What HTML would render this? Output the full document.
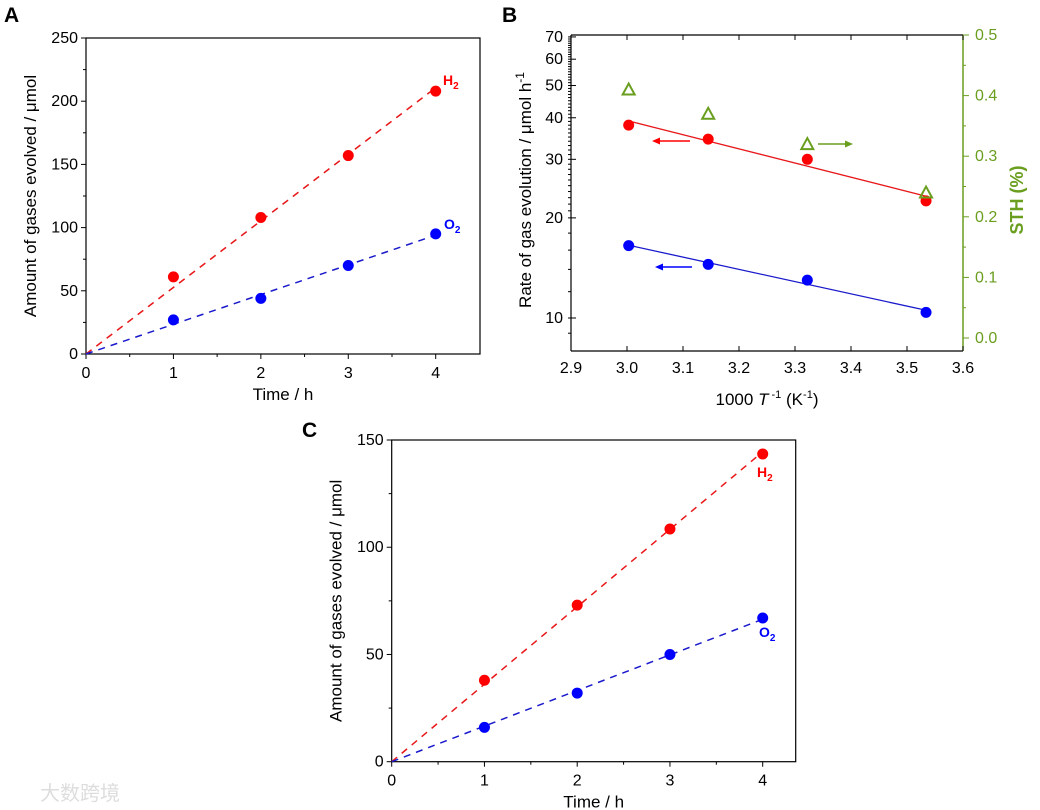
<!DOCTYPE html>
<html><head><meta charset="utf-8"><style>
body{margin:0;background:#fff;}
svg{display:block;font-family:"Liberation Sans",sans-serif;}
</style></head><body>
<svg id="fig" width="1040" height="810"></svg>
<script>
const timeCats=[0,1,2,3,4];
const aH2=[0,61,108,157,208];
const aO2=[0,27,44,70,95];
const cH2=[0,38,73,108.5,143.5];
const cO2=[0,16,32,50,67];
const bX=[3.003,3.145,3.322,3.534];
const bH2=[38,34.5,30,22.5];
const bO2=[16.5,14.5,13,10.4];
const bSTH=[0.41,0.37,0.32,0.24];
const timeTicks=[0,1,2,3,4];
const aYTicks=[0,50,100,150,200,250];
const cYTicks=[0,50,100,150];
const bXTicks=[2.9,3.0,3.1,3.2,3.3,3.4,3.5,3.6];
const bYTicks=[10,20,30,40,50,60,70];
const bY2Ticks=[0.0,0.1,0.2,0.3,0.4,0.5];

const NS="http://www.w3.org/2000/svg";
const svg=document.getElementById('fig');
function mk(tag,attrs,parent,name){const e=document.createElementNS(NS,tag);for(const k in attrs)e.setAttribute(k,attrs[k]);(parent||svg).appendChild(e);


return e;}
function txt(x,y,s,opts,name){const t=mk('text',Object.assign({x:x,y:y,'font-size':16,fill:'#000'},opts||{}),svg,name);t.innerHTML=s;return t;}
function fitOrigin(xs,ys){let a=0,b=0;for(let i=0;i<xs.length;i++){a+=xs[i]*ys[i];b+=xs[i]*xs[i];}return a/b;}

function timePanel(p){
  const sx=v=>p.x0+(v-0)*(p.x4-p.x0)/4, sy=v=>p.y0-v*(p.y0-p.yTop)/p.ymax;
  mk('rect',{x:p.x0,y:p.yTop,width:p.xr-p.x0,height:p.y0-p.yTop,fill:'none',stroke:'#000','stroke-width':1.2},svg,p.id+'-frame');
  timeTicks.forEach((t,i)=>{const X=sx(t);mk('line',{x1:X,y1:p.y0,x2:X,y2:p.y0+5,stroke:'#000'},svg,p.id+'-x-tick');
    txt(X,p.y0+24,t,{'text-anchor':'middle'},p.id+'-x-tick-label');
    if(i<4){const m=sx(t+0.5);mk('line',{x1:m,y1:p.y0,x2:m,y2:p.y0+3,stroke:'#000'},svg,p.id+'-x-minor-tick');}});
  p.yticks.forEach((t,i)=>{const Y=sy(t);mk('line',{x1:p.x0-5,y1:Y,x2:p.x0,y2:Y,stroke:'#000'},svg,p.id+'-y-tick');
    txt(p.x0-8,Y+5,t,{'text-anchor':'end'},p.id+'-y-tick-label');
    if(i<p.yticks.length-1){const m=sy(t+p.ystep/2);mk('line',{x1:p.x0-3,y1:m,x2:p.x0,y2:m,stroke:'#000'},svg,p.id+'-y-minor-tick');}});
  txt((p.x0+p.xr)/2,p.y0+46,'Time / h',{'text-anchor':'middle','font-size':17},p.id+'-x-axis-title');
  txt(0,0,'Amount of gases evolved / μmol',{'text-anchor':'middle','font-size':17,transform:`translate(${p.x0-50},${(p.y0+p.yTop)/2}) rotate(-90)`},p.id+'-y-axis-title');
  [[p.h2,'#e8181a','#ff0000','h2'],[p.o2,'#1a1acc','#0000ff','o2']].forEach(([d,lc,mc,nm])=>{
    const k=fitOrigin(timeCats,d);
    mk('line',{x1:sx(0),y1:sy(0),x2:sx(4),y2:sy(4*k),stroke:lc,'stroke-width':1.5,'stroke-dasharray':'7,6'},svg,p.id+'-'+nm+'-fit-line');
    timeCats.forEach((c,i)=>{if(i>0)mk('circle',{cx:sx(c),cy:sy(d[i]),r:5.5,fill:mc},svg,p.id+'-'+nm+'-point');});
  });
  txt(p.h2lab[0],p.h2lab[1],'H<tspan font-size="10" dy="4">2</tspan>',{fill:'#ff0000','font-weight':'bold','font-size':14},p.id+'-h2-label');
  txt(p.o2lab[0],p.o2lab[1],'O<tspan font-size="10" dy="4">2</tspan>',{fill:'#0000ff','font-weight':'bold','font-size':14},p.id+'-o2-label');
  txt(p.letter[0],p.letter[1],p.L,{'font-weight':'bold','font-size':21},p.id+'-panel-letter');
}
timePanel({id:'a',x0:86,x4:435.7,xr:480,y0:354,yTop:38,ymax:250,ystep:50,yticks:aYTicks,h2:aH2,o2:aO2,h2lab:[443,85],o2lab:[444,229],letter:[4,22],L:'A'});
timePanel({id:'c',x0:391.7,x4:762.7,xr:795.7,y0:761.7,yTop:440,ymax:150,ystep:50,yticks:cYTicks,h2:cH2,o2:cO2,h2lab:[757,477],o2lab:[759,637],letter:[302,437],L:'C'});

// Panel B
(function(){
  const x0=571,x1=963,yT=35,yB=351,dec=332.6,y10=318;
  const sx=v=>x0+(v-2.9)*(x1-x0)/0.7;
  const sy=v=>y10-Math.log10(v/10)*dec;
  const sy2=v=>338-v*(338-35)/0.5;
  const G='#6a9e1f';
  mk('line',{x1:x0,y1:yT,x2:x0,y2:yB,stroke:'#000','stroke-width':1.2},svg,'b-left-axis');
  mk('line',{x1:x0,y1:yB,x2:x1,y2:yB,stroke:'#000','stroke-width':1.2},svg,'b-bottom-axis');
  mk('line',{x1:x0,y1:yT,x2:x1,y2:yT,stroke:'#000','stroke-width':1.2},svg,'b-top-axis');
  mk('line',{x1:x1,y1:yT,x2:x1,y2:yB,stroke:G,'stroke-width':1.5},svg,'b-right-axis');
  bXTicks.forEach((t,i)=>{const X=sx(t);
    mk('line',{x1:X,y1:yB,x2:X,y2:yB-5,stroke:'#000'},svg,'b-x-tick');
    mk('line',{x1:X,y1:yT,x2:X,y2:yT+5,stroke:'#000'},svg,'b-x-top-tick');
    txt(X,yB+22,t.toFixed(1),{'text-anchor':'middle'},'b-x-tick-label');});
  bYTicks.forEach(t=>{const Y=sy(t);mk('line',{x1:x0,y1:Y,x2:x0+5,y2:Y,stroke:'#000'},svg,'b-y-tick');
    txt(x0-8,Y+5,t,{'text-anchor':'end'},'b-y-tick-label');});
  for(let v=9;v<=70;v+=(v<10?1:(v<20?2:1))){const Y=sy(v);if(Y>yB||Y<yT)continue;mk('line',{x1:x0-3,y1:Y,x2:x0,y2:Y,stroke:'#000'},svg,'b-y-minor-tick');}
  bY2Ticks.forEach((t,i)=>{const Y=sy2(t);mk('line',{x1:x1,y1:Y,x2:x1+6,y2:Y,stroke:G},svg,'b-y2-tick');
    txt(x1+12,Y+5,t.toFixed(1),{fill:G},'b-y2-tick-label');
    if(i<5){const m=sy2(t+0.05);mk('line',{x1:x1,y1:m,x2:x1+3,y2:m,stroke:G},svg,'b-y2-minor-tick');}});
  txt(767,405,'1000 <tspan font-style="italic">T</tspan><tspan font-size="11" dy="-7"> -1</tspan><tspan dy="7"> (K</tspan><tspan font-size="11" dy="-7">-1</tspan><tspan dy="7">)</tspan>',{'text-anchor':'middle','font-size':17},'b-x-axis-title');
  txt(0,0,'Rate of gas evolution / μmol h<tspan font-size="12" dy="-7">-1</tspan>',{'text-anchor':'middle','font-size':17,transform:`translate(531,190) rotate(-90)`},'b-y-axis-title');
  txt(0,0,'STH (%)',{'text-anchor':'middle','font-size':18,'font-weight':'bold',fill:G,transform:`translate(1023,200) rotate(-90)`},'b-y2-axis-title');
  function logfit(xs,ys){const n=xs.length;let mx=0,my=0;const ly=ys.map(Math.log);xs.forEach((x,i)=>{mx+=x/n;my+=ly[i]/n;});let a=0,b=0;xs.forEach((x,i)=>{a+=(x-mx)*(ly[i]-my);b+=(x-mx)*(x-mx);});const s=a/b;return x=>Math.exp(my+s*(x-mx));}
  [[bH2,'#e8181a','#ff0000','h2'],[bO2,'#1a1acc','#0000ff','o2']].forEach(([d,lc,mc,nm])=>{
    const f=logfit(bX,d);const xa=bX[0],xb=bX[bX.length-1];
    mk('line',{x1:sx(xa),y1:sy(f(xa)),x2:sx(xb),y2:sy(f(xb)),stroke:lc,'stroke-width':1.3},svg,'b-'+nm+'-fit-line');
    bX.forEach((x,i)=>mk('circle',{cx:sx(x),cy:sy(d[i]),r:5.5,fill:mc},svg,'b-'+nm+'-point'));
  });
  bX.forEach((x,i)=>{const X=sx(x),Y=sy2(bSTH[i]);
    mk('polygon',{points:`${X-6},${Y+5} ${X+6},${Y+5} ${X},${Y-6}`,fill:'none',stroke:G,'stroke-width':2},svg,'b-sth-point');});
  mk('line',{x1:690,y1:141,x2:658,y2:141,stroke:'#ff0000','stroke-width':1.5},svg,'b-h2-arrow');
  mk('polygon',{points:'652,141 660,137.5 660,144.5',fill:'#ff0000'},svg,'b-h2-arrowhead');
  mk('line',{x1:692,y1:267,x2:662,y2:267,stroke:'#0000ff','stroke-width':1.5},svg,'b-o2-arrow');
  mk('polygon',{points:'655,267 663,263.5 663,270.5',fill:'#0000ff'},svg,'b-o2-arrowhead');
  mk('line',{x1:818,y1:144,x2:846,y2:144,stroke:G,'stroke-width':1.5},svg,'b-sth-arrow');
  mk('polygon',{points:'853,144 845,140.5 845,147.5',fill:G},svg,'b-sth-arrowhead');
  txt(502,22,'B',{'font-weight':'bold','font-size':21},'b-panel-letter');
})();
txt(8,800,'大数跨境',{'font-size':20,fill:'#ddd','font-family':'"Liberation Sans","Noto Sans CJK SC",sans-serif',x:40},'watermark');
</script>
</body></html>
